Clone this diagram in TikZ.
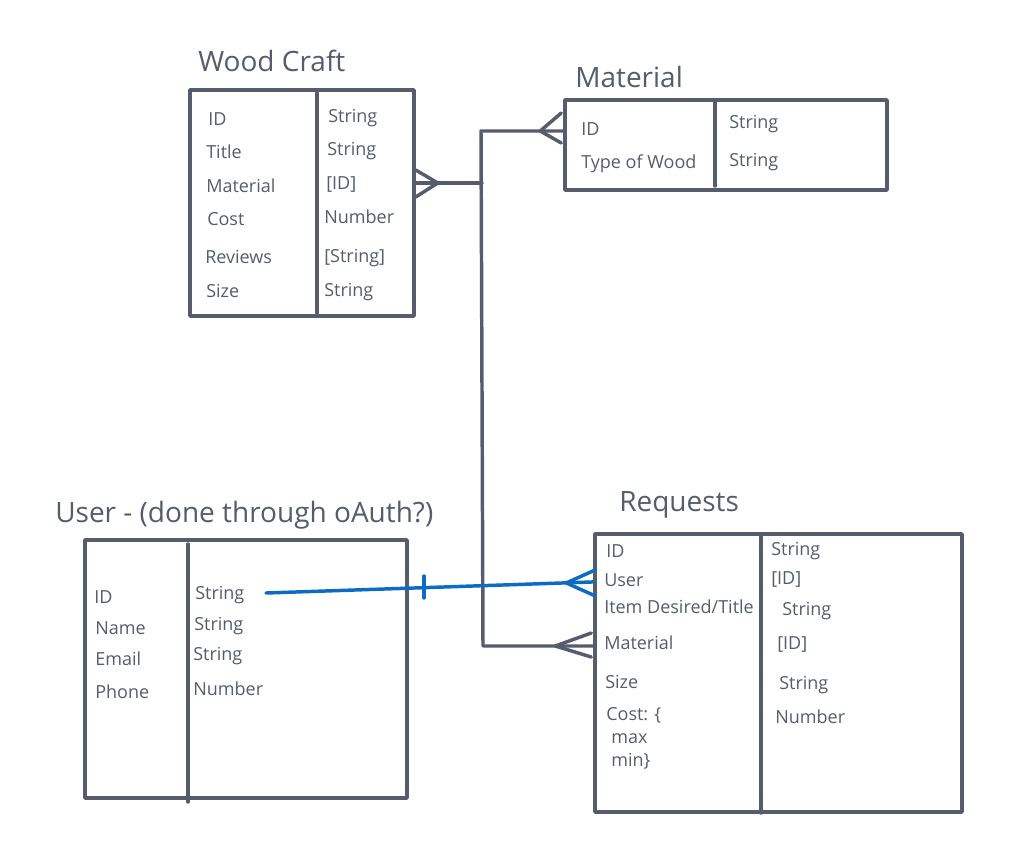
\documentclass[tikz,border=0pt]{standalone}
\usepackage{fontspec}
\setmainfont{Open Sans}
\usetikzlibrary{calc}
\definecolor{ink}{RGB}{86,92,110}
\definecolor{link}{RGB}{12,108,196}
\begin{document}
\begin{tikzpicture}[x=0.75pt,y=-0.75pt, line join=round, line cap=round,
  entity/.style={draw=ink, line width=2.6pt, rectangle, inner sep=0pt},
  divider/.style={draw=ink, line width=2.6pt},
  title/.style={text=ink, font=\fontsize{21}{25}\selectfont, anchor=west, inner sep=0pt, text height=0.72em, text depth=0pt, yshift=-3.5pt},
  fld/.style={text=ink, font=\fontsize{13.5}{16}\selectfont, anchor=west, inner sep=0pt, text height=0.72em, text depth=0pt, yshift=-2.2pt},
  edge/.style={draw=ink, line width=2.6pt},
  bluelink/.style={draw=link, line width=2.6pt}]
\useasboundingbox (0,0) rectangle (1017,860);

% ---------- Wood Craft ----------
\node[title] (wcT) at (198,62) {Wood Craft};
\node[entity, minimum width=168pt, minimum height=169.5pt] (wc) at (302,203) {};
\draw[divider] (317,93) -- (317,313);
\node[fld] (wcA1) at (208,118) {ID};
\node[fld] (wcA2) at (206,151) {Title};
\node[fld] (wcA3) at (206,185) {Material};
\node[fld] (wcA4) at (207,218) {Cost};
\node[fld] (wcA5) at (205,256) {Reviews};
\node[fld] (wcA6) at (206,290) {Size};
\node[fld] (wcB1) at (328,115) {String};
\node[fld] (wcB2) at (327,148) {String};
\node[fld] (wcB3) at (326,182) {[ID]};
\node[fld] (wcB4) at (324,216) {Number};
\node[fld] (wcB5) at (324,255) {[String]};
\node[fld] (wcB6) at (324,289) {String};

% ---------- Material ----------
\node[title] (matT) at (575,78) {Material};
\node[entity, minimum width=241.5pt, minimum height=67.5pt] (mat) at (726,145) {};
\draw[divider] (715,100) -- (715,186);
\node[fld] (matA1) at (581,128) {ID};
\node[fld] (matA2) at (581,161) {Type of Wood};
\node[fld] (matB1) at (729,121) {String};
\node[fld] (matB2) at (729,159) {String};

% ---------- User ----------
\node[title] (usrT) at (55,513) {User - (done through oAuth?)};
\node[entity, minimum width=241.5pt, minimum height=193.5pt] (usr) at (246,669) {};
\draw[divider] (188,544) -- (188,802);
\node[fld] (usrA1) at (94,596) {ID};
\node[fld] (usrA2) at (95,627) {Name};
\node[fld] (usrA3) at (95,658) {Email};
\node[fld] (usrA4) at (95,691) {Phone};
\node[fld] (usrB1) at (195,592) {String};
\node[fld] (usrB2) at (194,623) {String};
\node[fld] (usrB3) at (193,653) {String};
\node[fld] (usrB4) at (193,688) {Number};

% ---------- Requests ----------
\node[title] (reqT) at (619,502) {Requests};
\node[entity, minimum width=275.25pt, minimum height=208.5pt] (req) at (778.5,673) {};
\draw[divider] (761,534) -- (761,813);
\node[fld] (reqA1) at (606,550) {ID};
\node[fld] (reqA2) at (604,579) {User};
\node[fld] (reqA3) at (604,606) {Item Desired/Title};
\node[fld] (reqA4) at (604,642) {Material};
\node[fld] (reqA5) at (605,681) {Size};
\node[fld] (reqA6) at (606,713) {Cost: \{};
\node[fld] (reqA7) at (611,736) {max};
\node[fld] (reqA8) at (611,759) {min\}};
\node[fld] (reqB1) at (771,548) {String};
\node[fld] (reqB2) at (771,577) {[ID]};
\node[fld] (reqB3) at (782,608) {String};
\node[fld] (reqB4) at (777,642) {[ID]};
\node[fld] (reqB5) at (779,682) {String};
\node[fld] (reqB6) at (775,716) {Number};

% ---------- connectors ----------
\coordinate (sTop) at (481,131);
\coordinate (sMid) at (482,183);
\coordinate (sBot) at (483,646);
\draw[edge] (mat.west |- sTop) -- (sTop) -- (sBot) -- (req.west |- sBot);
\draw[edge] (wc.east |- sMid) -- (sMid);
% crow's feet (many)
\draw[edge] ($(wc.east |- sMid)+(0,-13)$) -- ++(22,13) -- ++(-22,14);
\draw[edge] ($(mat.west |- sTop)+(-2,-18)$) -- ++(-21,18) -- ++(21,12);
\draw[edge] ($(req.west |- sBot)+(-2,-13)$) -- ++(-36,13) -- ++(36,11);

% User -> Requests (blue)
\coordinate (uStart) at (266,593);
\draw[bluelink] (uStart) -- (req.west |- reqA2);
\draw[bluelink] ($(req.west |- reqA2)+(2,-12)$) -- ++(-29,13) -- ++(29,13);
\draw[bluelink] (424,576) -- (424,598);
\end{tikzpicture}
\end{document}
